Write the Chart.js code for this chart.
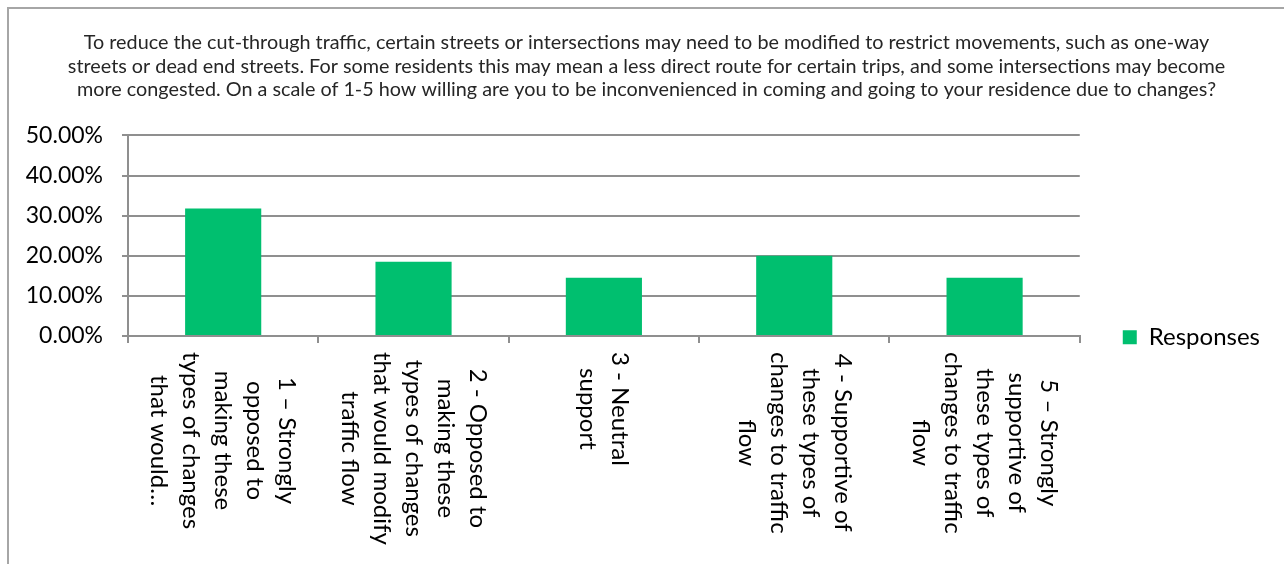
<!DOCTYPE html>
<html>
<head>
<meta charset="utf-8">
<script src="https://cdn.jsdelivr.net/npm/chart.js@4.4.1/dist/chart.umd.min.js"></script>
<style>
  html, body { margin: 0; padding: 0; background: #fff; }
  #frame { position: absolute; left: 7px; top: 7px; width: 1400px; height: 700px;
           border-left: 2px solid #a6a6a6; border-top: 2px solid #a6a6a6; }
  #wrap { position: absolute; left: 0; top: 0; width: 1284px; height: 564px; }
</style>
</head>
<body>
<div id="frame"></div>
<div id="wrap"><canvas id="bar_chart" width="1284" height="564"></canvas></div>
<script>
// survey question + answers
var titleLines = [
    "To reduce the cut-through traffic, certain streets or intersections may need to be modified to restrict movements, such as one-way",
    "streets or dead end streets. For some residents this may mean a less direct route for certain trips, and some intersections may become",
    "more congested. On a scale of 1-5 how willing are you to be inconvenienced in coming and going to your residence due to changes?"
];
var categories = [
    ["1 \u2013 Strongly", "opposed to", "making these", "types of changes", "that would\u2026"],
    ["2 - Opposed to", "making these", "types of changes", "that would modify", "traffic flow"],
    ["3 - Neutral", "support"],
    ["4 - Supportive of", "these types of", "changes to traffic", "flow"],
    ["5 \u2013 Strongly", "supportive of", "these types of", "changes to traffic", "flow"]
];
var responses = [31.8, 18.5, 14.5, 20.0, 14.5];
var yTicks = [0, 10, 20, 30, 40, 50];

var FONT = "Lato";
var gridColor = '#8f8f8f';

// excel style vertical labels (rotated clockwise, first line on the right)
var verticalLabels = {
    id: 'verticalLabels',
    afterLayout: function(chart) {
        // legend centred on the lower part like excel does
        var lg = chart.legend;
        lg.bottom = chart.height - 25;
        lg.height = lg.bottom - lg.top;
    },
    afterDraw: function(chart) {
        var ctx = chart.ctx, xs = chart.scales.x;
        var lh = 32, top = xs.top + 16;
        ctx.save();
        ctx.font = "24px " + FONT;
        ctx.fillStyle = '#000';
        ctx.textAlign = 'center';
        ctx.textBaseline = 'middle';
        chart.data.labels.forEach(function(lines, i) {
            var x = xs.getPixelForValue(i);
            var maxW = 0;
            lines.forEach(function(l) { maxW = Math.max(maxW, ctx.measureText(l).width); });
            ctx.save();
            ctx.translate(x, top);
            ctx.rotate(Math.PI / 2);
            lines.forEach(function(l, k) {
                ctx.fillText(l, maxW / 2, (k - (lines.length - 1) / 2) * lh);
            });
            ctx.restore();
        });
        ctx.restore();
    }
};

var barData = {
    labels: categories,
    datasets: [{
        label: "Responses",
        backgroundColor: '#00BF6F',
        data: responses,
        categoryPercentage: 1,
        barPercentage: 0.4
    }]
};

var barOptions = {
    responsive: false,
    animation: false,
    layout: { padding: { top: 0, right: 14, bottom: 25, left: 23 } },
    plugins: {
        title: {
            display: true,
            text: titleLines,
            color: '#262626',
            font: { family: FONT, size: 19.8, weight: 'normal', lineHeight: 1.17 },
            padding: { top: 31.5, bottom: 34.5 }
        },
        legend: {
            position: 'right',
            fullSize: false,
            labels: {
                color: '#000',
                font: { family: FONT, size: 24 },
                boxWidth: 14, boxHeight: 14,
                padding: 43
            }
        },
        tooltip: { enabled: false }
    },
    scales: {
        x: {
            grid: { display: true, drawOnChartArea: false, drawTicks: true, tickLength: 7, color: gridColor, lineWidth: 2, offset: true },
            border: { color: gridColor, width: 2 },
            ticks: { display: false },
            afterFit: function(scale) { scale.height = 564 - 25 - 336; }
        },
        y: {
            min: 0, max: 50,
            afterBuildTicks: function(scale) { scale.ticks = yTicks.map(function(v) { return { value: v }; }); },
            grid: { color: gridColor, lineWidth: 2, tickLength: 6 },
            border: { color: gridColor, width: 2 },
            ticks: {
                color: '#000',
                font: { family: FONT, size: 23 },
                padding: 19,
                callback: function(v) { return v.toFixed(2) + '%'; }
            },
            afterFit: function(scale) { scale.width = 105; }
        }
    }
};

var ctx = document.getElementById("bar_chart").getContext("2d");
new Chart(ctx, {type: 'bar', data: barData, options: barOptions, plugins: [verticalLabels]});
</script>
</body>
</html>
